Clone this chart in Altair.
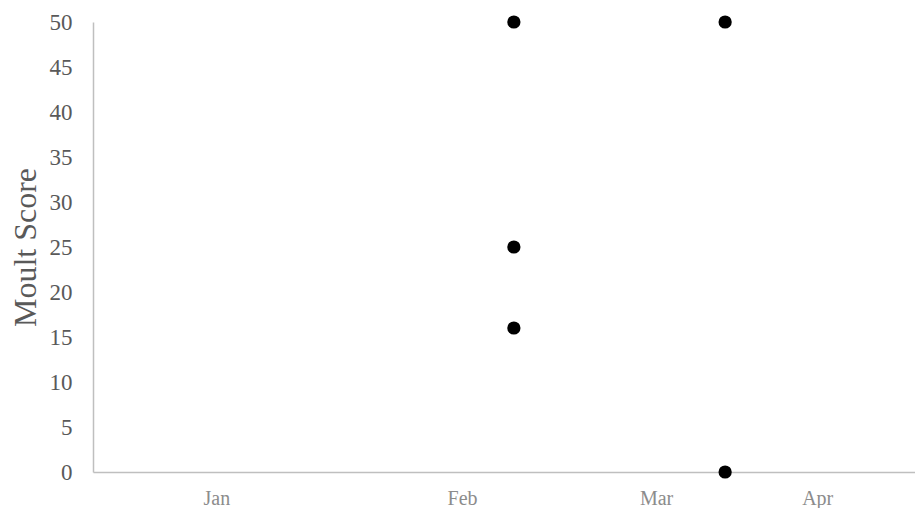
import altair as alt
import pandas as pd

# Month label positions on the x scale (arbitrary units across the axis)
month_labels = ["Jan", "Feb", "Mar", "Apr"]
month_pos = [15.0, 44.9, 68.5, 88.1]

# Observations
obs_x = [51.2, 51.2, 51.2, 76.9, 76.9]
moult_score = [50, 25, 16, 50, 0]

df = pd.DataFrame({"x": obs_x, "score": moult_score})

label_expr = " : ".join(
    f"datum.value == {p} ? '{l}'" for p, l in zip(month_pos, month_labels)
) + " : ''"

chart = alt.Chart(df).mark_circle(size=175, color="black", opacity=1).encode(
    x=alt.X("x:Q", scale=alt.Scale(domain=[0, 100], nice=False, zero=False),
            axis=alt.Axis(values=month_pos, labelExpr=label_expr, title=None,
                          grid=False, ticks=False, domainColor="#bfbfbf",
                          domainWidth=1.5, labelColor="#8c8c8c", labelFontSize=20,
                          labelFont="Liberation Serif", labelPadding=16)),
    y=alt.Y("score:Q", scale=alt.Scale(domain=[0, 50], nice=False),
            axis=alt.Axis(values=list(range(0, 51, 5)), title="Moult Score",
                          grid=False, ticks=False, domainColor="#bfbfbf",
                          domainWidth=1.5, labelColor="#595959", labelFontSize=23,
                          labelFont="Liberation Serif", labelPadding=21,
                          titleFont="Liberation Serif", titleFontSize=32,
                          titleFontWeight="normal", titleColor="#595959",
                          titlePadding=7)),
).properties(
    width=822, height=450,
    autosize="none",
    padding={"left": 85, "top": 14, "right": 0, "bottom": 36},
).configure_view(stroke=None)

chart.save("out.html", embed_options={"renderer": "svg", "actions": False})
